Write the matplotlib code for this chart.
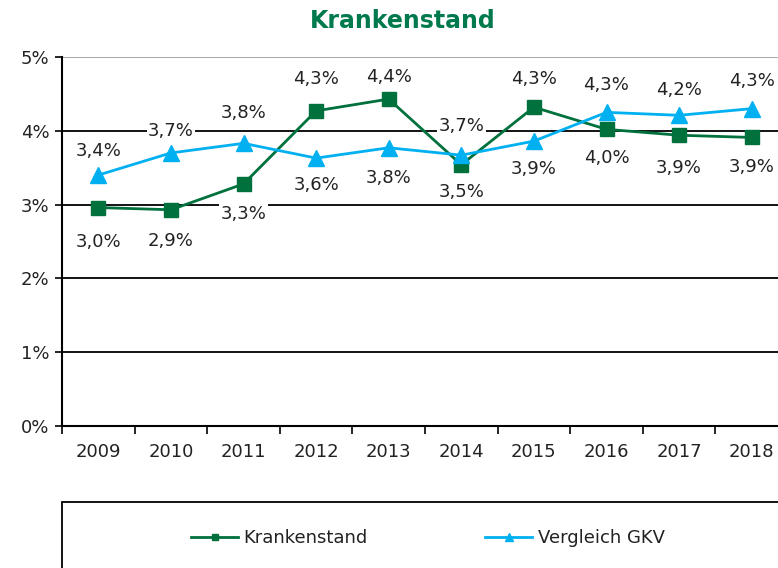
import numpy as np
import matplotlib.pyplot as plt
from matplotlib.patches import Rectangle

# Daten
jahre = ['2009', '2010', '2011', '2012', '2013', '2014', '2015', '2016', '2017', '2018']
krankenstand = [2.96, 2.93, 3.28, 4.27, 4.43, 3.54, 4.32, 4.02, 3.94, 3.91]
gkv = [3.40, 3.70, 3.83, 3.63, 3.77, 3.67, 3.86, 4.25, 4.21, 4.30]
k_labels = ['3,0%', '2,9%', '3,3%', '4,3%', '4,4%', '3,5%', '4,3%', '4,0%', '3,9%', '3,9%']
g_labels = ['3,4%', '3,7%', '3,8%', '3,6%', '3,8%', '3,7%', '3,9%', '4,3%', '4,2%', '4,3%']

gruen = '#00703c'
blau = '#00b0f0'
txt = '#222222'

# Label-Offsets in Punkten (positiv = oberhalb)
k_off = [-24.5, -22.3, -21.6, 23, 16, -19.4, 20.2, -20.9, -23.8, -21.6]
g_off = [17.3, 15.8, 21.6, -19.4, -21.6, 20.9, -20.2, 19.4, 18, 20.2]

fig = plt.figure(figsize=(7.78, 5.68), dpi=100)
ax = fig.add_axes([62/778, 1-426/568, 726/778, 369/568])

x = np.arange(len(jahre))
ax.plot(x, krankenstand, color=gruen, lw=2, marker='s', ms=10, label='Krankenstand', zorder=3)
ax.plot(x, gkv, color=blau, lw=2, marker='^', ms=11, label='Vergleich GKV', zorder=3)

for i in range(len(jahre)):
    ax.annotate(k_labels[i], (x[i], krankenstand[i]), xytext=(0, k_off[i]), textcoords='offset points',
                ha='center', va='center', fontsize=13, color=txt, zorder=4,
                bbox=dict(fc='white', ec='none', pad=1))
    ax.annotate(g_labels[i], (x[i], gkv[i]), xytext=(0, g_off[i]), textcoords='offset points',
                ha='center', va='center', fontsize=13, color=txt, zorder=4,
                bbox=dict(fc='white', ec='none', pad=1))

ax.set_xlim(-0.5, 9.5)
ax.set_ylim(0, 5)
ax.set_yticks([0, 1, 2, 3, 4, 5])
ax.set_yticklabels(['0%', '1%', '2%', '3%', '4%', '5%'], fontsize=13, color=txt)
ax.set_xticks(x)
ax.set_xticklabels(jahre, fontsize=13, color=txt)
ax.tick_params(axis='x', length=0, pad=12)
ax.set_xticks(np.arange(-0.5, 10, 1), minor=True)
ax.tick_params(axis='x', which='minor', length=6, width=1.2, direction='out')
ax.tick_params(axis='y', length=5, width=1.2, pad=4)

for yv in [1, 2, 3, 4]:
    ax.axhline(yv, color='black', lw=1.3, zorder=1)
ax.axhline(5, color='#a0a0a0', lw=1.3, zorder=1)
for s in ['top', 'right']:
    ax.spines[s].set_visible(False)
ax.spines['left'].set_linewidth(1.5)
ax.spines['bottom'].set_linewidth(1.5)

fig.text(403/778, 1-21/568, 'Krankenstand', ha='center', va='center', fontsize=17,
         fontweight='bold', color='#007a4d')

# Legendenrahmen
fig.patches.append(Rectangle((62/778, -0.05), 1.0, 1-502/568+0.05, transform=fig.transFigure,
                             fill=False, ec='black', lw=1.3))
leg = fig.legend(loc='center', bbox_to_anchor=(428/778, 1-538/568), ncol=2, frameon=False,
                 fontsize=13, handlelength=2.6, markerscale=0.5, columnspacing=6.5,
                 handletextpad=0.3)
for t in leg.get_texts():
    t.set_color(txt)

fig.savefig('out.png', dpi=100)
